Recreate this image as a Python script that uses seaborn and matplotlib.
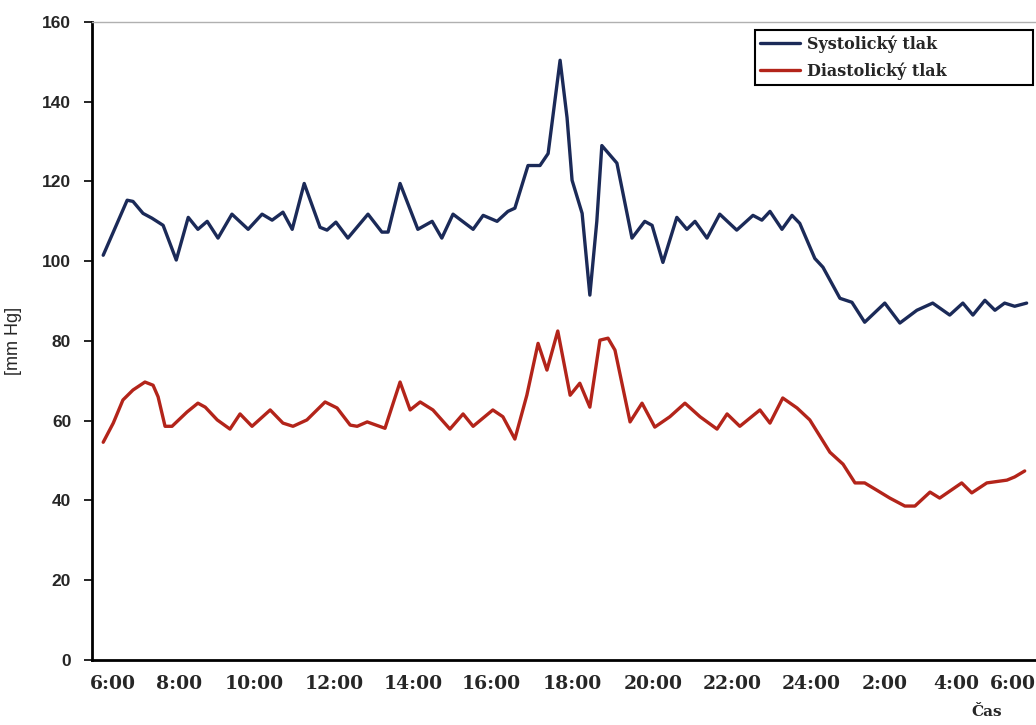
import pandas as pd
import matplotlib.pyplot as plt
import seaborn as sns

# time in hours (6.0 = 6:00, 30.0 = 6:00 next day), pressure in mm Hg
sys_time = [6.08, 6.70, 6.85, 7.11, 7.34, 7.63, 7.97, 8.28, 8.53, 8.77, 9.05, 9.41,
            9.83, 10.19, 10.45, 10.73, 10.97, 11.28, 11.69, 11.87, 12.10, 12.41, 12.93,
            13.29, 13.45, 13.76, 13.94, 14.22, 14.59, 14.84, 15.13, 15.65, 15.91, 16.27,
            16.55, 16.73, 17.07, 17.38, 17.59, 17.90, 18.08, 18.21, 18.47, 18.67, 18.85,
            18.98, 19.37, 19.76, 20.09, 20.28, 20.56, 20.92, 21.18, 21.39, 21.70, 22.03,
            22.47, 22.89, 23.12, 23.33, 23.64, 23.90, 24.10, 24.49, 24.70, 25.14, 25.45,
            25.78, 26.30, 26.69, 27.13, 27.54, 27.98, 28.32, 28.58, 28.89, 29.15, 29.40,
            29.66, 29.97]
sys_val = [101.5, 115.3, 115, 112, 110.8, 109, 100.3, 111, 108, 110, 105.8, 111.8,
           108, 111.8, 110.3, 112.3, 108, 119.5, 108.5, 107.8, 109.8, 105.8, 111.8,
           107.3, 107.3, 119.5, 115, 108, 110, 105.8, 111.8, 108, 111.5, 110,
           112.5, 113.3, 124, 124, 127, 150.4, 136, 120.3, 112, 91.5, 110,
           129, 124.6, 105.8, 110, 109, 99.7, 111, 108, 110, 105.8, 111.8,
           107.8, 111.5, 110.3, 112.5, 108, 111.5, 109.5, 100.7, 98.5, 90.7, 89.7,
           84.7, 89.5, 84.5, 87.7, 89.5, 86.5, 89.5, 86.5, 90.2, 87.7, 89.5,
           88.7, 89.5]

dia_time = [6.08, 6.34, 6.59, 6.85, 7.16, 7.37, 7.50, 7.68, 7.86, 8.25, 8.53, 8.72,
            9.03, 9.36, 9.62, 9.93, 10.40, 10.73, 10.99, 11.35, 11.82, 12.13, 12.47,
            12.65, 12.91, 13.37, 13.76, 14.02, 14.28, 14.61, 15.05, 15.39, 15.65, 16.16,
            16.42, 16.73, 17.04, 17.33, 17.56, 17.84, 18.16, 18.41, 18.67, 18.93, 19.14,
            19.32, 19.71, 20.02, 20.35, 20.74, 21.13, 21.52, 21.96, 22.22, 22.55, 23.07,
            23.33, 23.66, 24.03, 24.36, 24.88, 25.22, 25.53, 25.78, 26.09, 26.43, 26.82,
            27.08, 27.47, 27.72, 28.29, 28.55, 28.94, 29.46, 29.66, 29.92]
dia_val = [54.6, 59.4, 65.2, 67.7, 69.7, 68.9, 66, 58.6, 58.6, 62.2, 64.4, 63.4,
           60.2, 57.9, 61.7, 58.6, 62.7, 59.4, 58.6, 60.2, 64.7, 63.2, 58.9,
           58.6, 59.7, 58.1, 69.7, 62.7, 64.7, 62.7, 57.9, 61.7, 58.6, 62.7,
           61, 55.4, 66.4, 79.4, 72.7, 82.5, 66.4, 69.4, 63.4, 80.2, 80.7,
           77.7, 59.7, 64.4, 58.4, 61, 64.4, 61, 57.9, 61.7, 58.6, 62.7,
           59.4, 65.7, 63.2, 60.2, 52.1, 49.1, 44.4, 44.4, 42.6, 40.6, 38.6,
           38.6, 42.1, 40.6, 44.4, 41.9, 44.4, 45.1, 45.9, 47.4]

series_names = ["Systolický tlak", "Diastolický tlak"]
tick_labels = ["6:00", "8:00", "10:00", "12:00", "14:00", "16:00", "18:00",
               "20:00", "22:00", "24:00", "2:00", "4:00", "6:00"]
# label positions as they sit in the original (slightly uneven)
tick_pos = [6.34, 8.04, 9.98, 12.05, 14.09, 16.11, 18.21, 20.30, 22.34, 24.39,
            26.30, 28.14, 29.62]
colors = ["#1b2a58", "#b3241a"]


def main():
    sns.set_style("white")
    df = pd.concat([
        pd.DataFrame({"cas": sys_time, "tlak": sys_val, "serie": series_names[0]}),
        pd.DataFrame({"cas": dia_time, "tlak": dia_val, "serie": series_names[1]}),
    ])

    fig = plt.figure(figsize=(10.36, 7.25), dpi=100)
    ax = fig.add_axes([0.0888, 0.0897, 0.910, 0.880])

    sns.lineplot(data=df, x="cas", y="tlak", hue="serie", palette=colors,
                 sort=False, linewidth=2.4, ax=ax, legend=False)
    for name, c in zip(series_names, colors):
        ax.plot([], [], color=c, linewidth=2.4, label=name)

    ax.set_xlim(5.79, 30.18)
    ax.set_ylim(0, 160)
    ax.set_yticks(range(0, 161, 20))
    ax.set_xticks(tick_pos)
    ax.set_xticklabels(tick_labels, family="DejaVu Serif", fontweight="bold", fontsize=13.5)
    for t in ax.get_yticklabels():
        t.set_family("Liberation Sans")
        t.set_fontweight("bold")
        t.set_fontsize(12.5)
    ax.tick_params(axis="x", length=0, pad=11)
    ax.tick_params(axis="y", length=6, width=1.2, color="black", pad=9, left=True)

    ax.set_xlabel("")
    ax.set_ylabel("[mm Hg]", family="Liberation Sans", fontsize=13)
    ax.yaxis.set_label_coords(-0.074, 0.5)

    for side in ["left", "bottom"]:
        ax.spines[side].set_color("black")
        ax.spines[side].set_linewidth(2)
    ax.spines["top"].set_color("#b0b0b0")
    ax.spines["top"].set_linewidth(1)
    ax.spines["right"].set_visible(False)

    leg = ax.legend(loc="upper left", bbox_to_anchor=(0.703, 0.988, 0.295, 0.0),
                    mode="expand",
                    prop={"family": "DejaVu Serif", "weight": "bold", "size": 11.5},
                    frameon=True, fancybox=False, edgecolor="black",
                    handlelength=2.5, handletextpad=0.45, labelspacing=0.6,
                    borderpad=0.35, borderaxespad=0)
    leg.get_frame().set_linewidth(1.5)
    leg.get_frame().set_alpha(1)

    fig.text(0.952, 0.018, "Čas", family="DejaVu Serif", fontweight="bold",
             fontsize=11, ha="center", va="center")

    fig.savefig("out.png", dpi=100)


if __name__ == "__main__":
    main()
